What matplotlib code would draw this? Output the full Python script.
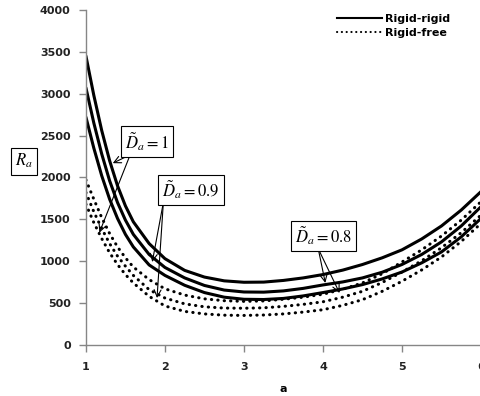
import matplotlib
matplotlib.use('Agg')
import matplotlib.pyplot as plt
from matplotlib.lines import Line2D

# wavenumber a and critical Rayleigh number R_a
a_vals = [1.0, 1.1, 1.2, 1.3, 1.4, 1.5, 1.6, 1.8, 2.0, 2.25, 2.5, 2.75,
          3.0, 3.25, 3.5, 3.75, 4.0, 4.25, 4.5, 4.75, 5.0, 5.25, 5.5, 5.75, 6.0]

# rigid-rigid (solid)
rr_d10 = [3450, 2980, 2560, 2200, 1900, 1660, 1470, 1210, 1030, 890, 810, 765,
          748, 750, 770, 800, 840, 893, 960, 1040, 1135, 1265, 1420, 1610, 1830]
rr_d09 = [3070, 2650, 2280, 1960, 1700, 1490, 1320, 1080, 925, 800, 710, 655,
          632, 630, 645, 675, 716, 752, 800, 868, 960, 1080, 1230, 1420, 1650]
rr_d08 = [2720, 2350, 2020, 1740, 1510, 1320, 1170, 955, 830, 712, 625, 570,
          545, 542, 555, 585, 625, 668, 720, 788, 870, 980, 1110, 1290, 1510]

# rigid-free (dotted)
rf_d10 = [1970, 1740, 1520, 1330, 1170, 1040, 930, 780, 670, 595, 550, 528,
          520, 525, 545, 570, 605, 665, 740, 850, 990, 1135, 1300, 1490, 1710]
rf_d09 = [1820, 1590, 1390, 1210, 1060, 940, 830, 660, 560, 490, 455, 440,
          438, 443, 460, 484, 515, 570, 640, 745, 870, 1005, 1160, 1340, 1550]
rf_d08 = [1680, 1460, 1270, 1100, 960, 840, 740, 580, 465, 400, 370, 355,
          352, 357, 370, 392, 420, 472, 540, 640, 760, 895, 1050, 1235, 1450]

x_ticks = [1, 2, 3, 4, 5, 6]
y_ticks = [0, 500, 1000, 1500, 2000, 2500, 3000, 3500, 4000]

plt.rcParams['mathtext.fontset'] = 'stix'
grey = '#868686'

fig = plt.figure(figsize=(4.8, 3.96), dpi=100)
ax = fig.add_axes([0.179, 0.129, 0.823, 0.846])

dot_style = (0, (0.1, 2.0))
for r in (rr_d10, rr_d09, rr_d08):
    ax.plot(a_vals, r, color='black', lw=2.2, solid_capstyle='round',
            solid_joinstyle='round')
for r in (rf_d10, rf_d09, rf_d08):
    ax.plot(a_vals, r, color='black', lw=2.2, linestyle=dot_style,
            dash_capstyle='round')

ax.set_xlim(1, 6)
ax.set_ylim(0, 4000)
ax.set_xticks(x_ticks)
ax.set_yticks(y_ticks)
for s in ('top', 'right'):
    ax.spines[s].set_visible(False)
for s in ('left', 'bottom'):
    ax.spines[s].set_color(grey)
    ax.spines[s].set_linewidth(1.0)
ax.tick_params(direction='out', length=5, width=1, color=grey,
               labelsize=8, pad=4)
for lab in ax.get_xticklabels() + ax.get_yticklabels():
    lab.set_fontweight('bold')
    lab.set_color('#222222')
ax.tick_params(axis='x', pad=7)
ax.tick_params(axis='y', pad=6)
ax.set_xlabel('a', fontsize=8, fontweight='bold', labelpad=9)

# y label in a box
fig.text(0.05, 0.593, r'$R_a$', fontsize=12, ha='center', va='center',
         bbox=dict(boxstyle='square,pad=0.25', fc='white', ec='black', lw=0.8))

# labelled boxes with arrows
box_kw = dict(boxstyle='square,pad=0.25', fc='white', ec='black', lw=0.8)
arrow_kw = dict(arrowstyle='->,head_length=0.5,head_width=0.25',
                color='black', lw=0.8, shrinkA=0, shrinkB=0)

labels = [
    (r'$\tilde{D}_a=1$', (1.77, 2430), (1.56, 2270), [(1.34, 2170), (1.17, 1340)]),
    (r'$\tilde{D}_a=0.9$', (2.33, 1850), (1.98, 1700), [(1.84, 990), (1.90, 560)]),
    (r'$\tilde{D}_a=0.8$', (4.01, 1300), (3.94, 1150), [(4.03, 740), (4.21, 620)]),
]
for txt, pos, tail, tips in labels:
    for tip in tips:
        ax.annotate('', xy=tip, xytext=tail, arrowprops=arrow_kw)
    ax.text(pos[0], pos[1], txt, fontsize=12, ha='center', va='center',
            bbox=box_kw, zorder=5)

handles = [
    Line2D([], [], color='black', lw=1.5),
    Line2D([], [], color='black', lw=1.5, linestyle=(0, (0.1, 2.2)),
           dash_capstyle='round'),
]
fig.legend(handles, ['Rigid-rigid', 'Rigid-free'], loc='upper left',
           bbox_to_anchor=(0.703, 0.965), frameon=False, borderpad=0,
           borderaxespad=0, handlelength=4.0, handletextpad=0.3,
           labelspacing=0.35, prop=dict(size=8, weight='bold'))

fig.savefig('out.png', dpi=100)
